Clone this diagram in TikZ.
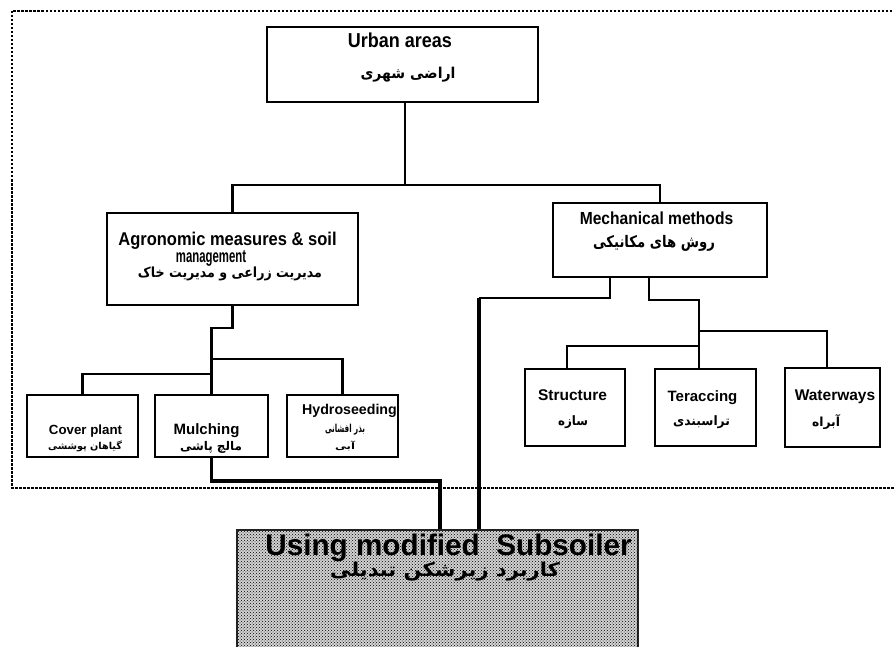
\documentclass[tikz,border=0pt]{standalone}
\usepackage{fontspec}
\usepackage{graphicx}
\setmainfont{Liberation Sans}
\newfontfamily\fafont[Script=Arabic]{DejaVu Sans}
\TeXXeTstate=1
\usetikzlibrary{patterns}
\newcommand{\fabox}[3]{\resizebox*{#1pt}{#2pt}{\fafont\bfseries #3}}
\newcommand{\ensz}[1]{\fontsize{#1pt}{#1pt}\selectfont\bfseries}
\begin{document}
\begin{tikzpicture}[x=1pt,y=-1pt,
  box/.style={draw=black, line width=2.4pt, fill=white, rectangle, inner sep=0pt},
  conn/.style={draw=black, line width=2.4pt, line join=miter},
  heavy/.style={draw=black, line width=3.8pt, line join=miter},
  frame/.style={draw=black, line width=1.2pt, dash pattern=on 2.5pt off 1.5pt},
  lbl/.style={inner sep=0pt, anchor=center},
  enl/.style={inner sep=0pt, anchor=base}]
\clip (0,0) rectangle (894,647);
\useasboundingbox (0,0) rectangle (894,647);
\fill[white] (0,0) rectangle (894,647);

% outer dashed frame
\coordinate (f1) at (900,11);
\coordinate (f2) at (12,11);
\coordinate (f3) at (12,488);
\coordinate (f4) at (900,488);
\draw[frame] (f1) -- (f2) -- (f3) -- (f4);

% boxes
\node[box, minimum width=271pt, minimum height=75pt] (urban) at (402.5,64.5) {};
\node[box, minimum width=251pt, minimum height=92pt] (agro) at (232.5,259) {};
\node[box, minimum width=214pt, minimum height=74pt] (mech) at (660,240) {};
\node[box, minimum width=111pt, minimum height=62pt] (cover) at (82.5,426) {};
\node[box, minimum width=113pt, minimum height=62pt] (mulch) at (211.5,426) {};
\node[box, minimum width=111pt, minimum height=62pt] (hydro) at (342.5,426) {};
\node[box, minimum width=100pt, minimum height=77pt] (struct) at (575,407.5) {};
\node[box, minimum width=101pt, minimum height=77pt] (terr) at (705.5,407.5) {};
\node[box, minimum width=95pt, minimum height=79pt] (water) at (832.5,407.5) {};
\node[draw=black!85, line width=1.4pt, fill=gray!35, rectangle, inner sep=0pt,
      minimum width=401pt, minimum height=130pt] (sub) at (437.5,595) {};
\path[pattern=crosshatch dots, pattern color=black] (sub.north west) rectangle (sub.south east);

% connectors
\coordinate (j1) at (405,185);
\draw[conn] (urban.south -| j1) -- (j1);
\draw[conn] (agro.north) |- (j1) -| (mech.north);

\coordinate (a1) at (232.5,328);
\coordinate (a2) at (211.5,328);
\draw[conn] (agro.south) -- (a1) -- (a2) -- (mulch.north);
\coordinate (a3) at (211.5,359);
\draw[conn] (a3) -| (hydro.north);
\coordinate (a4) at (211.5,374);
\draw[conn] (a4) -| (cover.north);

\coordinate (m1) at (610,298);
\coordinate (m2) at (479,298);
\draw[conn] (mech.south -| m1) -- (m1) -- (m2);
\draw[heavy] (m2) -- (m2 |- sub.north);
\coordinate (m3) at (649,300);
\coordinate (m4) at (699,300);
\draw[conn] (mech.south -| m3) -- (m3) -- (m4) -- (m4 |- terr.north);
\coordinate (m5) at (699,331);
\draw[conn] (m5) -| ([xshift=-5.5pt]water.north);
\coordinate (m6) at (699,346);
\draw[conn] (m6) -| ([xshift=-8pt]struct.north);

\coordinate (s1) at (211.5,481);
\coordinate (s2) at (440,481);
\draw[heavy] (mulch.south) -- (s1) -- (s2) -- (s2 |- sub.north);

% texts
\node[enl, font=\ensz{18}] (t1) at (400,48) {\scalebox{1}[1.12]{Urban areas}};
\node[lbl] (p1) at (408,75) {\fabox{95}{15}{\beginR اراضی شهری\endR}};

\node[enl, font=\ensz{16.5}] (t2) at (227.5,245) {\scalebox{1}[1.12]{Agronomic measures \& soil}};
\node[enl, font=\ensz{16.5}] (t2b) at (211,262) {\scalebox{0.69}[1.1]{management}};
\node[lbl] (p2) at (230,274) {\fabox{184}{14}{\beginR مدیریت زراعی و مدیریت خاک\endR}};

\node[enl, font=\ensz{15.6}] (t3) at (656.5,225) {\scalebox{1}[1.12]{Mechanical methods}};
\node[lbl] (p3) at (654,243) {\fabox{122}{16}{\beginR روش های مکانیکی\endR}};

\node[enl, font=\ensz{13.3}] (t4) at (85.5,434) {Cover plant};
\node[lbl] (p4) at (85,446) {\fabox{74}{11}{\beginR گیاهان پوششی\endR}};

\node[enl, font=\ensz{15}] (t5) at (206.5,434) {Mulching};
\node[lbl] (p5) at (211,447) {\fabox{62}{12}{\beginR مالچ پاشی\endR}};

\node[enl, font=\ensz{14.2}] (t6) at (349.5,414) {Hydroseeding};
\node[lbl] (p6) at (345,430) {\fabox{40}{11}{\beginR بذر افشانی\endR}};
\node[lbl] (p6b) at (345,446) {\fabox{20}{10}{\beginR آبی\endR}};

\node[enl, font=\ensz{15.5}] (t7) at (572.5,400) {Structure};
\node[lbl] (p7) at (573,422) {\fabox{30}{13}{\beginR سازه\endR}};

\node[enl, font=\ensz{15}] (t8) at (702.5,401) {Teraccing};
\node[lbl] (p8) at (701.5,422) {\fabox{57}{13}{\beginR تراسبندی\endR}};

\node[enl, font=\ensz{15.5}] (t9) at (835,400) {Waterways};
\node[lbl] (p9) at (826,422) {\fabox{28}{15}{\beginR آبراه\endR}};

\node[enl, font=\ensz{29.7}] (t10) at (448.5,555) {Using modified\ \ Subsoiler};
\node[lbl] (p10) at (445,572) {\fabox{230}{19}{\beginR کاربرد زیرشکن تبدیلی\endR}};
\end{tikzpicture}
\end{document}
